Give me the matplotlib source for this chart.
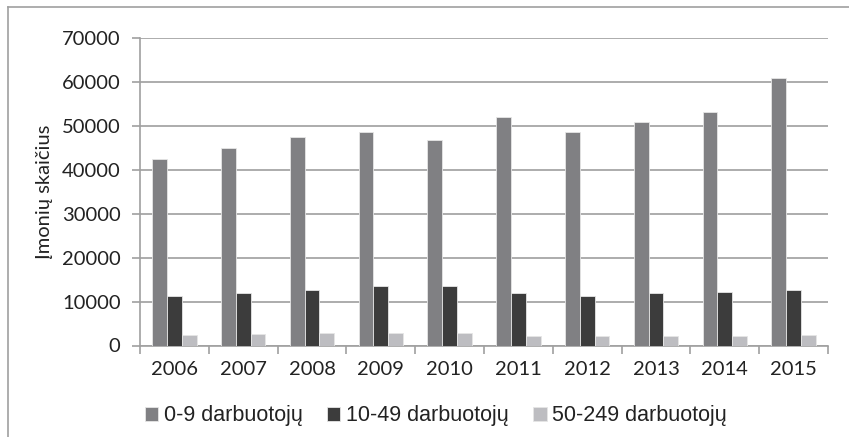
import numpy as np
import matplotlib.pyplot as plt
from matplotlib.lines import Line2D

years = ["2006", "2007", "2008", "2009", "2010", "2011", "2012", "2013", "2014", "2015"]
micro = [42400, 44900, 47500, 48600, 46800, 52100, 48700, 50950, 53150, 60900]
small = [11200, 12000, 12650, 13600, 13650, 11850, 11300, 11950, 12250, 12600]
medium = [2450, 2680, 2750, 2900, 2850, 2200, 2080, 2200, 2200, 2380]
labels = ["0-9 darbuotojų", "10-49 darbuotojų", "50-249 darbuotojų"]
colors = ["#808083", "#3c3c3c", "#bdbdc1"]

fig = plt.figure(figsize=(8.49, 4.37), dpi=100)
ax = fig.add_axes([140 / 849, 1 - 345.5 / 437, 688 / 849, 307.5 / 437])

x = np.arange(len(years))
w = 0.215
for i, (vals, c, lab) in enumerate(zip([micro, small, medium], colors, labels)):
    ax.bar(x + (i - 1) * w, vals, w, color=c, edgecolor="#e6e6e6", linewidth=0.6,
           label=lab, zorder=3)

ax.set_xlim(-0.5, len(years) - 0.5)
ax.set_ylim(0, 70000)
ax.set_yticks(range(0, 70001, 10000))
ax.yaxis.grid(True, color="#a6a6a6", linewidth=1.3, zorder=0)
ax.set_xticks(x)
ax.set_xticklabels(years, fontsize=14.5, family="Lato", color="#222222")
ax.set_xticks(np.arange(-0.5, len(years)), minor=True)
ax.tick_params(axis="x", which="major", length=0, pad=11)
ax.tick_params(axis="x", which="minor", length=6, color="#a0a0a0", width=1.2)
ax.tick_params(axis="y", length=6, color="#a0a0a0", width=1.2, pad=8)
for t in ax.get_yticklabels():
    t.set_fontsize(14.5)
    t.set_family("Lato")
    t.set_color("#222222")

for s in ["top", "right"]:
    ax.spines[s].set_visible(False)
for s in ["left", "bottom"]:
    ax.spines[s].set_color("#a0a0a0")
    ax.spines[s].set_linewidth(1.2)

ax.set_ylabel("Įmonių skaičius", fontsize=14.5, family="Lato", color="#222222", labelpad=6)

leg = ax.legend(loc="center left", bbox_to_anchor=(145 / 849, 1 - 416 / 437),
                bbox_transform=fig.transFigure, ncol=3, frameon=False,
                prop={"family": "Liberation Sans", "size": 15.5},
                handlelength=0.62, handleheight=0.62, handletextpad=0.24,
                columnspacing=1.15, borderpad=0, borderaxespad=0)
for t in leg.get_texts():
    t.set_color("#222222")

# outer frame (left and top edges)
fig.add_artist(Line2D([8 / 849, 8 / 849], [0, 1 - 7 / 437], color="#a0a0a0",
                      linewidth=1.2, transform=fig.transFigure))
fig.add_artist(Line2D([8 / 849, 1], [1 - 7 / 437, 1 - 7 / 437], color="#a0a0a0",
                      linewidth=1.2, transform=fig.transFigure))

fig.savefig("out.png", dpi=100)
